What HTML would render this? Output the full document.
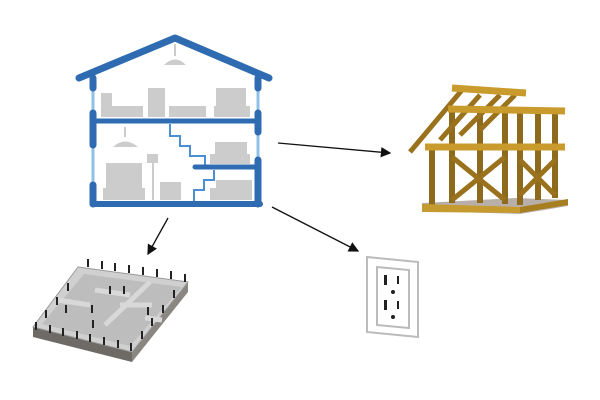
<!DOCTYPE html>
<html><head><meta charset="utf-8"><style>body{margin:0;background:#fff}svg{display:block}</style></head><body>
<svg width="600" height="400" viewBox="0 0 600 400" xmlns="http://www.w3.org/2000/svg">
<defs><marker id="a" markerWidth="8" markerHeight="8" refX="7" refY="4" orient="auto"><path d="M0,0 L8,4 L0,8 Z" fill="#111"/></marker></defs>
<!-- House -->
<g fill="#cccccc">
<rect x="101" y="93" width="11" height="24"/><rect x="101" y="106" width="42" height="11"/>
<rect x="148" y="88" width="17" height="29"/><rect x="169" y="106" width="37" height="11"/>
<rect x="216" y="88" width="30" height="18"/><rect x="214" y="106" width="36" height="11"/>
<path d="M164 65 Q175 54 186 65 Z"/><rect x="174" y="44" width="2" height="12"/>
<path d="M113 147 Q125 136 138 147 Z"/><rect x="124" y="127" width="2" height="10"/>
<rect x="106" y="163" width="36" height="26"/><rect x="103" y="188" width="42" height="12"/>
<rect x="147" y="154" width="11" height="9"/><rect x="152" y="160" width="2" height="40"/>
<rect x="160" y="182" width="21" height="18"/>
<rect x="215" y="142" width="32" height="17"/><rect x="210" y="154" width="40" height="10"/>
<rect x="216" y="180" width="36" height="14"/><rect x="210" y="188" width="42" height="12"/>
</g>
<g stroke="#8ec0e8" stroke-width="3" fill="none">
<line x1="93" y1="80" x2="93" y2="205"/><line x1="258" y1="80" x2="258" y2="205"/>
</g>
<polyline points="170,124 170,136 180,136 180,146 190,146 190,156 205,156 205,165" fill="none" stroke="#4b8fd4" stroke-width="2"/>
<polyline points="214,170 214,180 204,180 204,190 194,190 194,202" fill="none" stroke="#4b8fd4" stroke-width="2"/>
<g stroke="#2e6bb0" stroke-linejoin="round" stroke-linecap="round" fill="none">
<polyline points="79,78 175,38 269,78" stroke-width="7"/>
<line x1="93" y1="121" x2="258" y2="121" stroke-width="5"/>
<line x1="93" y1="204" x2="260" y2="204" stroke-width="6"/>
<line x1="195" y1="167" x2="258" y2="167" stroke-width="5"/>
<line x1="93" y1="78" x2="93" y2="88" stroke-width="7"/>
<line x1="258" y1="78" x2="258" y2="88" stroke-width="7"/>
<line x1="93" y1="113" x2="93" y2="145" stroke-width="7"/>
<line x1="258" y1="113" x2="258" y2="132" stroke-width="7"/>
<line x1="93" y1="185" x2="93" y2="204" stroke-width="7"/>
<line x1="258" y1="160" x2="258" y2="204" stroke-width="7"/>
</g>
<!-- Frame -->
<polygon points="422,203 515,198 568,200 568,206 520,214 422,211" fill="#b8b0a8"/>
<g stroke="#8e6a1c" stroke-width="6">
<line x1="432" y1="150" x2="432" y2="205"/><line x1="452" y1="110" x2="452" y2="203"/>
<line x1="480" y1="110" x2="480" y2="203"/><line x1="505" y1="110" x2="505" y2="204"/>
<line x1="520" y1="110" x2="520" y2="205"/><line x1="538" y1="112" x2="538" y2="200"/>
<line x1="555" y1="112" x2="555" y2="198"/>
</g>
<g stroke="#9a721e" stroke-width="5">
<line x1="452" y1="157" x2="505" y2="200"/><line x1="505" y1="157" x2="452" y2="200"/>
<line x1="520" y1="160" x2="555" y2="195"/><line x1="555" y1="160" x2="520" y2="195"/>
<line x1="410" y1="152" x2="462" y2="90"/><line x1="440" y1="140" x2="480" y2="95"/>
<line x1="460" y1="135" x2="500" y2="95"/><line x1="480" y1="130" x2="515" y2="95"/>
</g>
<polygon points="422,204 520,207 520,213 422,212" fill="#c59a2e"/>
<polygon points="520,207 568,199 568,205 520,213" fill="#a87f20"/>
<g stroke="#c99b2c" stroke-width="7">
<line x1="452" y1="88" x2="526" y2="93"/>
<line x1="448" y1="109" x2="565" y2="111"/>
<line x1="425" y1="147" x2="565" y2="147"/>
</g>
<!-- Foundation -->
<polygon points="33,327 132,352 132,362 33,337" fill="#6e6a66"/>
<polygon points="132,352 188,282 188,292 132,362" fill="#8a8682"/>
<polygon points="78,267 188,282 132,352 33,327" fill="#d0d0d0" stroke="#9a9a9a" stroke-width="1"/>
<polygon points="84,274 182,287 130,346 42,324" fill="#bdbdbd"/>
<g stroke="#d8d8d8" stroke-width="5"><line x1="57" y1="300" x2="90" y2="305"/><line x1="95" y1="290" x2="130" y2="295"/><line x1="105" y1="325" x2="150" y2="282"/><line x1="120" y1="305" x2="152" y2="305"/><line x1="145" y1="318" x2="162" y2="320"/></g>
<g stroke="#222" stroke-width="2">
<line x1="88" y1="259" x2="88" y2="267"/><line x1="102" y1="261" x2="102" y2="269"/><line x1="115" y1="263" x2="115" y2="271"/><line x1="129" y1="265" x2="129" y2="273"/><line x1="143" y1="267" x2="143" y2="275"/><line x1="157" y1="269" x2="157" y2="277"/><line x1="171" y1="271" x2="171" y2="279"/><line x1="185" y1="274" x2="185" y2="282"/>
<line x1="68" y1="283" x2="68" y2="291"/><line x1="57" y1="297" x2="57" y2="305"/><line x1="46" y1="310" x2="46" y2="318"/><line x1="36" y1="322" x2="36" y2="330"/>
<line x1="50" y1="325" x2="50" y2="333"/><line x1="63" y1="328" x2="63" y2="336"/><line x1="77" y1="331" x2="77" y2="339"/><line x1="90" y1="334" x2="90" y2="342"/><line x1="104" y1="337" x2="104" y2="345"/><line x1="118" y1="340" x2="118" y2="348"/><line x1="131" y1="343" x2="131" y2="351"/>
<line x1="174" y1="290" x2="174" y2="298"/><line x1="163" y1="305" x2="163" y2="313"/><line x1="152" y1="318" x2="152" y2="326"/><line x1="142" y1="331" x2="142" y2="339"/>
<line x1="110" y1="286" x2="110" y2="294"/><line x1="124" y1="286" x2="124" y2="294"/><line x1="92" y1="305" x2="92" y2="313"/><line x1="66" y1="305" x2="66" y2="313"/><line x1="93" y1="320" x2="93" y2="328"/><line x1="148" y1="307" x2="148" y2="315"/>
</g>
<!-- Outlet -->
<polygon points="367,257 418,262 418,337 367,332" fill="#fff" stroke="#bbb" stroke-width="2"/>
<polygon points="377,267 409,270 409,328 377,325" fill="#fff" stroke="#bbb" stroke-width="2"/>
<g fill="#222"><rect x="384" y="275" width="3" height="10"/><rect x="397" y="276" width="2" height="8"/><circle cx="393" cy="292" r="2"/>
<rect x="384" y="300" width="3" height="10"/><rect x="397" y="301" width="2" height="8"/><circle cx="393" cy="317" r="2"/></g>
<!-- Arrows -->
<g stroke="#111" stroke-width="1.3" marker-end="url(#a)">
<line x1="168" y1="218" x2="148" y2="254"/>
<line x1="278" y1="143" x2="390" y2="153"/>
<line x1="272" y1="207" x2="358" y2="251"/>
</g>
</svg>
</body></html>
